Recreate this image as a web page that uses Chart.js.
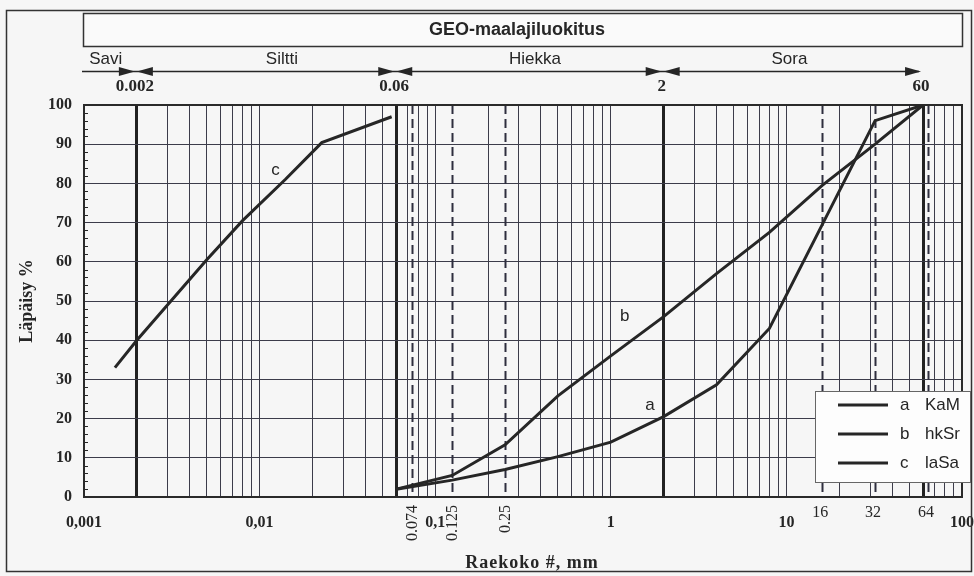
<!DOCTYPE html>
<html>
<head>
<meta charset="utf-8">
<script src="https://cdn.jsdelivr.net/npm/chart.js@4/dist/chart.umd.min.js"></script>
<style>
  html, body { margin: 0; padding: 0; background: #f6f6f6; }
  #wrap { width: 974px; height: 576px; }
</style>
</head>
<body>
<div id="wrap"><canvas id="grading" width="974" height="576"></canvas></div>
<script>
// Grain size distribution (sieve size in mm, passing %)
const sizesA = [0.06, 0.125, 0.25, 0.5, 1, 2, 4, 8, 16, 32, 60];
const passA  = [2, 4.3, 7, 10.3, 14, 20.5, 28.6, 43, 69.5, 96, 100];

const sizesB = [0.06, 0.125, 0.25, 0.5, 1, 2, 4, 8, 16, 32, 60];
const passB  = [2, 5.5, 13.3, 25.8, 36, 46, 57, 67.5, 79.5, 90, 100];

const sizesC = [0.0015, 0.002, 0.005, 0.008, 0.014, 0.0226, 0.0565];
const passC  = [33, 40, 60.5, 70.5, 81, 90.4, 97];

const seriesKeys  = ['a', 'b', 'c'];
const seriesNames = ['KaM', 'hkSr', 'laSa'];

// GEO soil classification
const classNames  = ['Savi', 'Siltti', 'Hiekka', 'Sora'];
const classLimits = [0.002, 0.06, 2, 60];
const limitLabels = ['0.002', '0.06', '2', '60'];

// Axis labelling
const decadeTicks  = [0.001, 0.01, 0.1, 1, 10, 100];
const decadeLabels = ['0,001', '0,01', '0,1', '1', '10', '100'];
const sieveMarks   = [0.074, 0.125, 0.25, 16, 32, 64];
const sieveLabels  = ['0.074', '0.125', '0.25', '16', '32', '64'];

const SERIF = '"Liberation Serif", "Times New Roman", serif';
const SANS  = '"Liberation Sans", Arial, sans-serif';
const INK   = '#262626';
const GRID  = '#3c3c4a';

// 1..9 per decade for the log grid
const gridValues = [];
for (let e = -3; e <= 1; e++) {
  for (let k = 1; k <= 9; k++) gridValues.push(Number((k * Math.pow(10, e)).toPrecision(6)));
}
gridValues.push(100);

const sameValue = (a, b) => Math.abs(Math.log10(a) - Math.log10(b)) < 1e-6;
const isLimit = v => classLimits.some(l => sameValue(l, v));
const decadeIndex = v => decadeTicks.findIndex(d => sameValue(d, v));

function toPoints(xs, ys) { return xs.map((x, i) => ({ x: x, y: ys[i] })); }

const curveStyle = { showLine: true, borderColor: INK, backgroundColor: INK, borderWidth: 3, pointRadius: 0, tension: 0 };

const decor = {
  id: 'decor',
  beforeDraw(chart) {
    const { ctx, width, height } = chart;
    ctx.save();
    ctx.fillStyle = '#f6f6f6';
    ctx.fillRect(0, 0, width, height);
    ctx.restore();
  },
  beforeDatasetsDraw(chart) {
    const { ctx, chartArea: ca, scales: { x, y } } = chart;
    ctx.save();
    // dashed sieve lines
    ctx.strokeStyle = '#2e2e3e';
    ctx.lineWidth = 2;
    ctx.setLineDash([9, 5]);
    sieveMarks.forEach(v => {
      const px = Math.round(x.getPixelForValue(v)) + 0.5;
      ctx.beginPath(); ctx.moveTo(px, ca.top); ctx.lineTo(px, ca.bottom); ctx.stroke();
    });
    ctx.setLineDash([]);
    // minor ticks on the percentage axis
    ctx.strokeStyle = INK;
    ctx.lineWidth = 1;
    for (let p = 2; p < 100; p += 2) {
      if (p % 10 === 0) continue;
      const py = Math.round(y.getPixelForValue(p)) + 0.5;
      ctx.beginPath(); ctx.moveTo(ca.left, py); ctx.lineTo(ca.left + 4, py); ctx.stroke();
    }
    // plot frame
    ctx.lineWidth = 2;
    ctx.strokeStyle = '#2a2a2a';
    ctx.strokeRect(ca.left, ca.top, ca.right - ca.left, ca.bottom - ca.top);
    ctx.restore();
  },
  afterDatasetsDraw(chart) {
    const { ctx, chartArea: ca, scales: { x, y } } = chart;
    const o = chart.options.plugins.decor;
    ctx.save();

    // outer frame
    ctx.strokeStyle = '#333';
    ctx.lineWidth = 1.5;
    ctx.strokeRect(6.5, 10.5, 965, 561);

    // classification header
    ctx.fillStyle = '#fafafa';
    ctx.fillRect(ca.left - 1, 13, ca.right - ca.left + 1, 33);
    ctx.strokeRect(ca.left - 1 + 0.5, 13.5, ca.right - ca.left + 1, 33);
    ctx.fillStyle = INK;
    ctx.font = 'bold 18px ' + SANS;
    ctx.textAlign = 'center';
    ctx.textBaseline = 'middle';
    ctx.fillText('GEO-maalajiluokitus', (ca.left + ca.right) / 2 - 6, 30);

    // class range arrows
    const ay = 71;
    const lastX = x.getPixelForValue(classLimits[classLimits.length - 1]);
    ctx.lineWidth = 1.5;
    ctx.strokeStyle = INK;
    ctx.beginPath(); ctx.moveTo(ca.left - 2, ay + 0.5); ctx.lineTo(lastX - 4, ay + 0.5); ctx.stroke();
    const tri = (tip, dir) => {
      ctx.beginPath();
      ctx.moveTo(tip, ay + 0.5);
      ctx.lineTo(tip - dir * 16, ay + 0.5 - 4.5);
      ctx.lineTo(tip - dir * 16, ay + 0.5 + 4.5);
      ctx.closePath(); ctx.fill();
    };
    classLimits.forEach((v, i) => {
      const px = x.getPixelForValue(v);
      tri(px - 2, 1);
      if (i < classLimits.length - 1) tri(px, -1);
    });

    // class names
    ctx.font = '17px ' + SANS;
    classNames.forEach((n, i) => {
      ctx.fillText(n, x.getPixelForValue(o.classAnchors[i]), 59);
    });

    // limit values
    ctx.font = 'bold 17px ' + SERIF;
    limitLabels.forEach((t, i) => {
      ctx.fillText(t, x.getPixelForValue(classLimits[i]) - 2, 87);
    });

    // sieve labels below the axis
    ctx.font = '16px ' + SERIF;
    sieveMarks.forEach((v, i) => {
      const px = x.getPixelForValue(v);
      if (v < 1) {
        ctx.save();
        ctx.translate(px + 1, ca.bottom + 8);
        ctx.rotate(-Math.PI / 2);
        ctx.textAlign = 'right';
        ctx.fillText(sieveLabels[i], 0, 0);
        ctx.restore();
      } else {
        ctx.fillText(sieveLabels[i], px - 2, ca.bottom + 16);
      }
    });

    // axis title
    ctx.font = 'bold 18px ' + SERIF;
    ctx.letterSpacing = '1px';
    ctx.fillText('Raekoko #, mm', o.xTitleAt, 563);
    ctx.letterSpacing = '0px';

    // curve keys
    ctx.font = '17px ' + SANS;
    o.curveLabelAt.forEach((p, i) => {
      ctx.fillText(seriesKeys[i], x.getPixelForValue(p[0]), y.getPixelForValue(p[1]));
    });

    // legend
    const lx = ca.right - 147, ly = ca.bottom - 106, lw = 155, lh = 91;
    ctx.fillStyle = '#fdfdfd';
    ctx.fillRect(lx, ly, lw, lh);
    ctx.strokeStyle = '#666';
    ctx.lineWidth = 1;
    ctx.strokeRect(lx + 0.5, ly + 0.5, lw, lh);
    chart.data.datasets.forEach((ds, i) => {
      const ry = ly + 14 + i * 29;
      ctx.strokeStyle = ds.borderColor;
      ctx.lineWidth = 3;
      ctx.beginPath(); ctx.moveTo(lx + 23, ry); ctx.lineTo(lx + 73, ry); ctx.stroke();
      ctx.fillStyle = INK;
      ctx.textAlign = 'left';
      ctx.fillText(seriesKeys[i], lx + 85, ry);
      ctx.fillText(seriesNames[i], lx + 110, ry);
    });
    ctx.restore();
  }
};

new Chart(document.getElementById('grading'), {
  type: 'scatter',
  data: {
    datasets: [
      Object.assign({ label: seriesNames[0], data: toPoints(sizesA, passA) }, curveStyle),
      Object.assign({ label: seriesNames[1], data: toPoints(sizesB, passB) }, curveStyle),
      Object.assign({ label: seriesNames[2], data: toPoints(sizesC, passC) }, curveStyle)
    ]
  },
  options: {
    responsive: false,
    animation: false,
    layout: { padding: { left: 0, top: 105, right: 12, bottom: 0 } },
    plugins: {
      legend: { display: false },
      tooltip: { enabled: false },
      decor: {
        classAnchors: [0.00133, 0.0134, 0.37, 10.4],
        curveLabelAt: [[1.67, 23.5], [1.2, 46.2], [0.0123, 83.4]],
        xTitleAt: 532
      }
    },
    scales: {
      x: {
        type: 'logarithmic',
        min: 0.001,
        max: 100,
        afterBuildTicks: s => { s.ticks = gridValues.map(v => ({ value: v })); },
        afterFit: s => { s.height = 79; s.paddingLeft = 0; s.paddingRight = 0; },
        border: { display: false },
        grid: {
          drawTicks: false,
          color: c => (c.tick && isLimit(c.tick.value)) ? '#222' : GRID,
          lineWidth: c => (c.tick && isLimit(c.tick.value)) ? 3 : 1
        },
        ticks: {
          autoSkip: false,
          maxRotation: 0,
          minRotation: 0,
          padding: 16,
          color: INK,
          font: { family: SERIF, size: 16, weight: 'bold' },
          callback: v => { const i = decadeIndex(v); return i >= 0 ? decadeLabels[i] : ''; }
        }
      },
      y: {
        min: 0,
        max: 100,
        afterFit: s => { s.width = 84; s.paddingTop = 0; s.paddingBottom = 0; },
        border: { display: false },
        grid: { drawTicks: false, color: GRID, lineWidth: 1 },
        ticks: {
          stepSize: 10,
          padding: 12,
          color: INK,
          font: { family: SERIF, size: 16, weight: 'bold' }
        },
        title: {
          display: true,
          text: 'Läpäisy %',
          color: INK,
          font: { family: SERIF, size: 18, weight: 'bold' },
          padding: { top: 17, bottom: 0 }
        }
      }
    }
  },
  plugins: [decor]
});
</script>
</body>
</html>
